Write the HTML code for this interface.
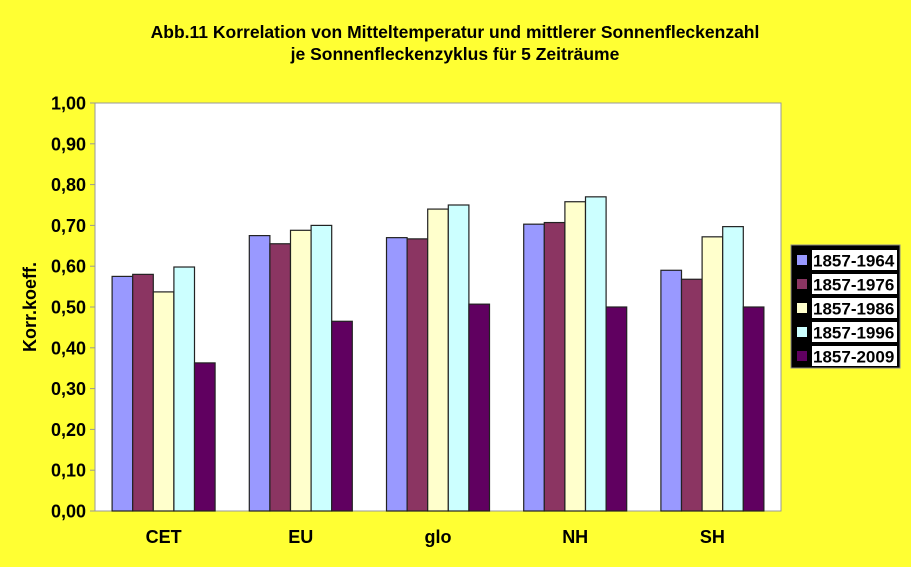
<!DOCTYPE html>
<html><head><meta charset="utf-8"><style>
body{margin:0;background:#ffff33;}
svg{display:block;font-family:"Liberation Sans",Arial,sans-serif;font-weight:bold;}
</style></head><body>
<svg id="c" width="911" height="567">
<rect width="911" height="567" fill="#ffff33"/>
<text x="455" y="38" text-anchor="middle" font-size="17.5">Abb.11 Korrelation von Mitteltemperatur und mittlerer Sonnenfleckenzahl</text>
<text x="455" y="60" text-anchor="middle" font-size="17.5">je Sonnenfleckenzyklus für 5 Zeiträume</text>
<rect x="95" y="103" width="686" height="408" fill="#fff" stroke="#999"/>
<text transform="translate(36,307) rotate(-90)" text-anchor="middle" font-size="18">Korr.koeff.</text>
<g id="ax"></g><g id="bars"></g>
<rect x="791" y="245" width="109" height="123" fill="#000" stroke="#888"/>
<g id="leg"></g>
</svg>
<script>
const categories=["CET","EU","glo","NH","SH"];
const seriesNames=["1857-1964","1857-1976","1857-1986","1857-1996","1857-2009"];
const s1964=[0.575,0.675,0.670,0.703,0.590];
const s1976=[0.580,0.655,0.667,0.707,0.568];
const s1986=[0.537,0.688,0.740,0.758,0.672];
const s1996=[0.598,0.700,0.750,0.770,0.697];
const s2009=[0.363,0.465,0.507,0.500,0.500];
const tickLabels=["0,00","0,10","0,20","0,30","0,40","0,50","0,60","0,70","0,80","0,90","1,00"];
const tickValues=[0,0.1,0.2,0.3,0.4,0.5,0.6,0.7,0.8,0.9,1.0];
const colors=["#9999ff","#8b3562","#ffffcc","#ccffff","#600060"];
const series=[s1964,s1976,s1986,s1996,s2009];
const NS="http://www.w3.org/2000/svg";
const X0=95,X1=781,Y0=511,Y1=103;
const y=v=>Y0-(Y0-Y1)*v;
const gw=(X1-X0)/categories.length,bw=20.6,off=(gw-bw*5)/2;
function mk(t,a,p){const e=document.createElementNS(NS,t);for(const k in a)e.setAttribute(k,a[k]);p.appendChild(e);return e;}
const ax=document.getElementById('ax');
tickValues.forEach((v,i)=>{
 const l=mk('line',{x1:X0-5,x2:X0,y1:y(v),y2:y(v),stroke:'#999'},ax);
 
 
 const t=mk('text',{x:X0-9,y:y(v)+6.5,'text-anchor':'end','font-size':18},ax);
 t.textContent=tickLabels[i];
 
 
});
const bg=document.getElementById('bars');
categories.forEach((c,i)=>{
 const t=mk('text',{x:X0+gw*(i+0.5),y:Y0+32,'text-anchor':'middle','font-size':18},ax);
 t.textContent=c;
 
 
 series.forEach((s,j)=>{
  const r=mk('rect',{x:X0+gw*i+off+bw*j,y:y(s[i]),width:bw,height:Y0-y(s[i]),fill:colors[j],stroke:'#222','stroke-width':1.2},bg);
  
  
 });
});
const lg=document.getElementById('leg');
seriesNames.forEach((n,j)=>{
 const yy=250+j*24;
 const sw=mk('rect',{x:797,y:yy+5,width:10,height:10,fill:colors[j]},lg);
 
 
 mk('rect',{x:812,y:yy,width:85,height:20,fill:'#fff'},lg);
 const t=mk('text',{x:813,y:yy+16.5,'font-size':17},lg);
 t.textContent=n;
 
 
});
</script>
</body></html>
